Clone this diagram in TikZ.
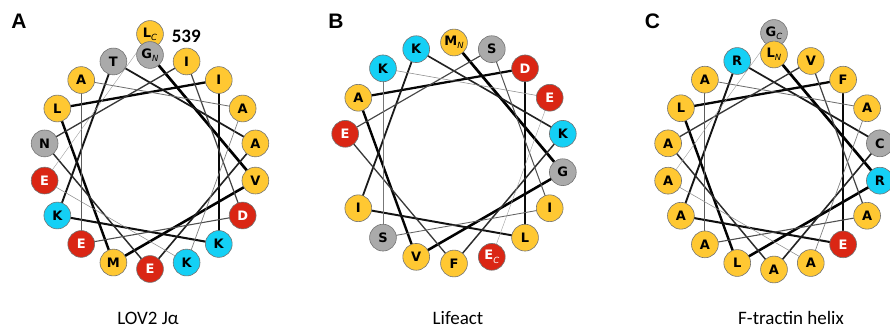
\documentclass[tikz,border=0pt]{standalone}
\usepackage{fontspec}
\setmainfont{Carlito}
\newfontfamily\resfont{DejaVu Sans}
\newfontfamily\labfont{Liberation Sans}
\usepackage{tikz}
\usetikzlibrary{backgrounds}
\usepackage{xcolor}
\definecolor{hydcol}{RGB}{255,200,50}
\definecolor{polcol}{RGB}{170,170,170}
\definecolor{acidcol}{RGB}{218,38,20}
\definecolor{bascol}{RGB}{20,208,245}
\newcommand{\trm}[1]{\raisebox{-0.45ex}{\mdseries\itshape\fontsize{8.5}{8.5}\selectfont #1}}

\begin{document}
\begin{tikzpicture}[x=1pt, y=1pt]
\tikzstyle{res}=[circle, draw=black!55, line width=0.6pt, minimum size=26.8pt, inner sep=0pt, font=\resfont\bfseries\fontsize{13}{13}\selectfont]
\tikzstyle{rhyd}=[res, fill=hydcol]
\tikzstyle{rpol}=[res, fill=polcol]
\tikzstyle{racid}=[res, fill=acidcol, text=white]
\tikzstyle{rbas}=[res, fill=bascol]
\tikzstyle{panel}=[anchor=base, font=\labfont\bfseries\fontsize{21}{21}\selectfont]
\tikzstyle{caption}=[anchor=base, font=\fontsize{19}{19}\selectfont]
\tikzset{aaA/.style=rhyd, aaL/.style=rhyd, aaI/.style=rhyd, aaV/.style=rhyd, aaM/.style=rhyd, aaF/.style=rhyd,
  aaG/.style=rpol, aaT/.style=rpol, aaN/.style=rpol, aaS/.style=rpol, aaC/.style=rpol,
  aaE/.style=racid, aaD/.style=racid, aaK/.style=rbas, aaR/.style=rbas}
\useasboundingbox (0,0) rectangle (890,329);

% LOV2 J-alpha wheel
\begin{scope}[shift={(150,167)}]
\node[aaL] (lov18) at (90:128) {L\trm{C}};
\foreach \r [count=\k] in {V,M,L,I,K,K,T,A,E,N,I,D,E,A,A,K,E}
  \node[aa\r] (lov\k) at ({90-100*\k}:107) {\r};
\node[aaG] (lov0) at (90:107) {G\trm{N}};
\end{scope}

% Lifeact wheel
\begin{scope}[shift={(454,176)}]
\foreach \r [count=\k] in {G,V,A,D,L,I,K,K,F,E,S,I,S,K,E}
  \node[aa\r] (life\k) at ({90-100*\k}:110.5) {\r};
\node[aaE] (life16) at (290:110.5) {E\trm{C}};
\node[aaM] (life0) at (90:110.5) {M\trm{N}};
\end{scope}

% F-tractin wheel
\begin{scope}[shift={(774,167)}]
\node[aaG] (ftr18) at (90:129) {G\trm{C}};
\foreach \r [count=\k] in {R,L,L,F,E,A,R,C,A,A,V,A,A,A,A,A,A}
  \node[aa\r] (ftr\k) at ({90-100*\k}:107.5) {\r};
\node[aaL] (ftr0) at (90:107.5) {L\trm{N}};
\end{scope}

% backbone links, thick and dark at N end
\begin{scope}[on background layer]
\foreach \j [evaluate=\j as \n using int(\j+1), evaluate=\j as \w using 2.7-2.3*\j/17, evaluate=\j as \g using 100-62*(\j/17)^2] in {0,...,17} {
  \draw[line width={\w pt}, draw=black!\g] (lov\j.center) -- (lov\n.center);
  \draw[line width={\w pt}, draw=black!\g] (ftr\j.center) -- (ftr\n.center);
}
\foreach \j [evaluate=\j as \n using int(\j+1), evaluate=\j as \w using 2.7-2.3*\j/15, evaluate=\j as \g using 100-62*(\j/15)^2] in {0,...,15}
  \draw[line width={\w pt}, draw=black!\g] (life\j.center) -- (life\n.center);
\end{scope}

\node[panel] (labA) at (19,300) {A};
\node[panel] (labB) at (336,300) {B};
\node[panel] (labC) at (652.5,300) {C};
\node[anchor=base, font=\bfseries\fontsize{19}{19}\selectfont] (num) at (186.3,286.7) {539};
\node[caption] (capA) at (148,4.5) {LOV2 Jα};
\node[caption] (capB) at (458,4.5) {Lifeact};
\node[caption] (capC) at (791,4.5) {F-tractin helix};
\end{tikzpicture}
\end{document}
